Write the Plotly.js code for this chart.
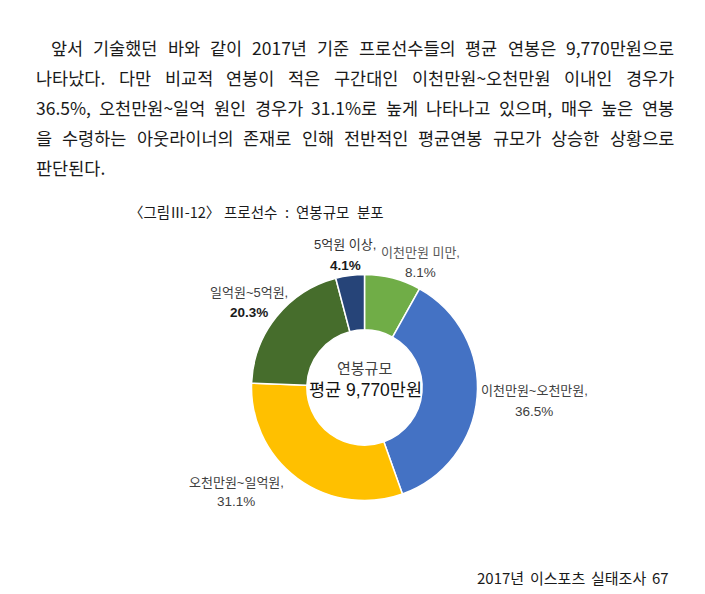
<!DOCTYPE html>
<html><head><meta charset="utf-8">
<script src="https://cdn.plot.ly/plotly-3.0.1.min.js"></script>
<style>html,body{margin:0;padding:0;background:#fff;}#chart{width:705px;height:594px;}</style>
</head><body><div id="chart"></div>
<script>
// ---- data ----
const categories = ['이천만원 미만', '이천만원~오천만원', '오천만원~일억원', '일억원~5억원', '5억원 이상'];
const values = [8.1, 36.5, 31.1, 20.3, 4.1];
const sliceColors = ['#70AD47', '#4472C4', '#FFC000', '#466D2C', '#264478'];
const centerTitle = '연봉규모';
const centerValue = '평균 9,770만원';
const figureNumber = '〈그림Ⅲ-12〉';
const figureTitle = '프로선수 : 연봉규모 분포';
const footerText = '2017년 이스포츠 실태조사 67';
const paragraphLines = [
  '앞서 기술했던 바와 같이 2017년 기준 프로선수들의 평균 연봉은 9,770만원으로',
  '나타났다. 다만 비교적 연봉이 적은 구간대인 이천만원~오천만원 이내인 경우가',
  '36.5%, 오천만원~일억 원인 경우가 31.1%로 높게 나타나고 있으며, 매우 높은 연봉',
  '을 수령하는 아웃라이너의 존재로 인해 전반적인 평균연봉 규모가 상승한 상황으로',
  '판단된다.'
];

// ---- layout helpers ----
const W = 705, H = 594;
const px = x => x / W;
const py = y => 1 - y / H;
const annotations = [];
function addText(text, x, y, font, xanchor) {
  annotations.push({text, x: px(x), y: py(y), xref: 'paper', yref: 'paper',
    xanchor: xanchor || 'center', yanchor: 'middle', showarrow: false, font});
}
const canvas = document.createElement('canvas');
const ctx = canvas.getContext('2d');
// place words of a line so that it spans [left, right] (or natural spacing if right is null)
function placeLine(line, left, right, y, font) {
  ctx.font = font.size + 'px ' + font.family;
  const words = line.split(' ');
  const widths = words.map(w => ctx.measureText(w).width);
  const total = widths.reduce((a, b) => a + b, 0);
  let gap = ctx.measureText(' ').width;
  if (right !== null && words.length > 1) gap = (right - left - total) / (words.length - 1);
  let x = left;
  words.forEach((w, k) => { addText(w, x - 1, y, font, 'left'); x += widths[k] + gap; });
}

// paragraph (justified)
const pFamily = '"Noto Sans CJK KR"';
const pFont = {family: pFamily, size: 17.5, color: '#1a1a1a'};
const lineY = [47, 77, 107, 137, 167];
paragraphLines.forEach((line, i) => {
  const left = i === 0 ? 50 : 35;
  const right = i < paragraphLines.length - 1 ? 673 : null;
  placeLine(line, left, right, lineY[i], pFont);
});

// figure title and footer
const tFont = {family: pFamily, size: 14.5, color: '#1a1a1a'};
addText(figureNumber, 127, 212, tFont, 'left');
placeLine(figureTitle, 223, 383, 212, tFont);
placeLine(footerText, 476, 668, 577, {family: pFamily, size: 15, color: '#1a1a1a'});

// slice labels
const lblFamily = '"Liberation Sans", "Noto Sans CJK KR"';
const labelPos = [[420, 252, 272], [534, 391, 412], [236, 482, 501], [249, 292, 312], [345, 245, 265]];
const labelColor = ['#595959', '#404040', '#404040', '#404040', '#333333'];
const boldPct = [false, false, false, true, true];
categories.forEach((c, i) => {
  const [x, y1, y2] = labelPos[i];
  addText(c + ',', x, y1, {family: lblFamily, size: 13, color: labelColor[i]});
  const pct = values[i].toFixed(1) + '%';
  addText(boldPct[i] ? '<b>' + pct + '</b>' : pct, x, y2,
    {family: lblFamily, size: 13.5, color: boldPct[i] ? '#1a1a1a' : '#404040'});
});

// center text
addText(centerTitle, 364, 367, {family: '"Noto Sans CJK KR"', size: 15, color: '#404040'});
addText(centerValue, 365, 390, {family: '"Liberation Sans", "Noto Sans CJK KR"', size: 17.5, color: '#111111'});

// donut geometry
const cx = 364.5, cy = 387.5, R = 113;
const trace = {
  type: 'pie', labels: categories, values: values, sort: false, direction: 'clockwise', rotation: 0,
  hole: 0.51, textinfo: 'none', hoverinfo: 'none',
  marker: {colors: sliceColors, line: {color: '#ffffff', width: 1.5}},
  domain: {x: [px(cx - R), px(cx + R)], y: [py(cy + R), py(cy - R)]},
  showlegend: false
};
const layout = {width: W, height: H, margin: {l: 0, r: 0, t: 0, b: 0},
  paper_bgcolor: '#ffffff', plot_bgcolor: '#ffffff', showlegend: false, annotations};
Plotly.newPlot('chart', [trace], layout, {displayModeBar: false, staticPlot: true});
</script></body></html>
